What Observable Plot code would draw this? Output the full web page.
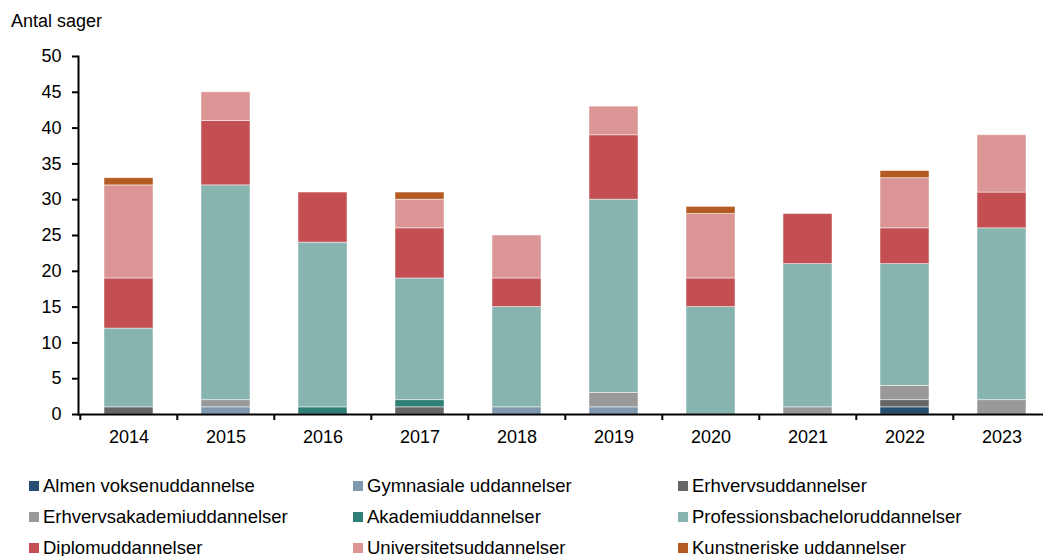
<!DOCTYPE html>
<html>
<head>
<meta charset="utf-8">
<script src="https://cdn.jsdelivr.net/npm/d3@7"></script>
<script src="https://cdn.jsdelivr.net/npm/@observablehq/plot@0.6"></script>
<style>
  html, body { margin: 0; padding: 0; background: #fff; overflow: hidden; width: 1043px; height: 556px; }
  body { position: relative; font-family: "Liberation Sans", Arial, sans-serif; color: #000; }
  #title { position: absolute; left: 11px; top: 11px; font-size: 18px; line-height: 20px; }
  #chart { position: absolute; left: 0; top: 0; width: 1053px; }
  #chart svg { max-width: none !important; width: 1053px; height: 460px; }
  #legend { position: absolute; left: 29px; top: 470px; display: grid;
            grid-template-columns: 324px 325px 330px; grid-auto-rows: 31px; font-size: 18.5px; }
  .item { display: flex; align-items: center; white-space: nowrap; }
  .sw { width: 10px; height: 10px; margin-right: 4px; flex: none; }
</style>
</head>
<body>
<div id="title">Antal sager</div>
<div id="chart"></div>
<div id="legend"></div>
<script>
const years = ["2014","2015","2016","2017","2018","2019","2020","2021","2022","2023"];
const seriesNames = [
  "Almen voksenuddannelse", "Gymnasiale uddannelser", "Erhvervsuddannelser",
  "Erhvervsakademiuddannelser", "Akademiuddannelser", "Professionsbacheloruddannelser",
  "Diplomuddannelser", "Universitetsuddannelser", "Kunstneriske uddannelser"
];
const colors = ["#264e70", "#7f98ae", "#666666", "#999999", "#2f7f76", "#88b4b0", "#c44f52", "#db9595", "#b35b23"];

const almen    = [0, 0, 0, 0, 0, 0, 0, 0, 1, 0];
const gymn     = [0, 1, 0, 0, 1, 1, 0, 0, 0, 0];
const erhverv  = [1, 0, 0, 1, 0, 0, 0, 0, 1, 0];
const erhvAkad = [0, 1, 0, 0, 0, 2, 0, 1, 2, 2];
const akademi  = [0, 0, 1, 1, 0, 0, 0, 0, 0, 0];
const prof     = [11, 30, 23, 17, 14, 27, 15, 20, 17, 24];
const diplom   = [7, 9, 7, 7, 4, 9, 4, 7, 5, 5];
const univ     = [13, 4, 0, 4, 6, 4, 9, 0, 7, 8];
const kunst    = [1, 0, 0, 1, 0, 0, 1, 0, 1, 0];

const yTicks = [0, 5, 10, 15, 20, 25, 30, 35, 40, 45, 50];

const seriesValues = [almen, gymn, erhverv, erhvAkad, akademi, prof, diplom, univ, kunst];
const data = [];
seriesNames.forEach((name, si) => {
  years.forEach((yr, yi) => {
    const v = seriesValues[si][yi];
    if (v > 0) data.push({year: yr, series: name, value: v});
  });
});

const W = 1053, ML = 78, MR = 1;
const step = (W - ML - MR) / years.length;

const chart = Plot.plot({
  width: W, height: 460,
  marginLeft: ML, marginRight: MR, marginTop: 56, marginBottom: 46,
  style: {fontFamily: "'Liberation Sans', Arial, sans-serif", fontSize: "18px", color: "#000", background: "transparent", maxWidth: "none"},
  x: {domain: years, paddingInner: 0.5, paddingOuter: 0.25, label: null},
  y: {domain: [0, 50], label: null},
  color: {domain: seriesNames, range: colors},
  marks: [
    Plot.barY(data, Plot.stackY({order: seriesNames}, {
      x: "year", y: "value", z: "series", fill: "series",
      stroke: "white", strokeWidth: 0.8, strokeOpacity: 0.6
    })),
    Plot.axisY({ticks: yTicks, tickSize: 6, tickPadding: 11, strokeWidth: 2, fontSize: 18, label: null}),
    Plot.axisX({tickSize: 0, tickPadding: 16, fontSize: 18, label: null}),
    Plot.axisX({tickSize: 6, text: null, dx: -step / 2, strokeWidth: 2, label: null}),
    Plot.ruleY([0], {strokeWidth: 2}),
    Plot.frame({anchor: "left", strokeWidth: 2})
  ]
});
document.getElementById("chart").appendChild(chart);

const legend = document.getElementById("legend");
seriesNames.forEach((name, i) => {
  const it = document.createElement("div");
  it.className = "item";
  const sw = document.createElement("span");
  sw.className = "sw";
  sw.style.background = colors[i];
  const tx = document.createElement("span");
  tx.textContent = name;
  it.appendChild(sw);
  it.appendChild(tx);
  legend.appendChild(it);
});
</script>
</body>
</html>
